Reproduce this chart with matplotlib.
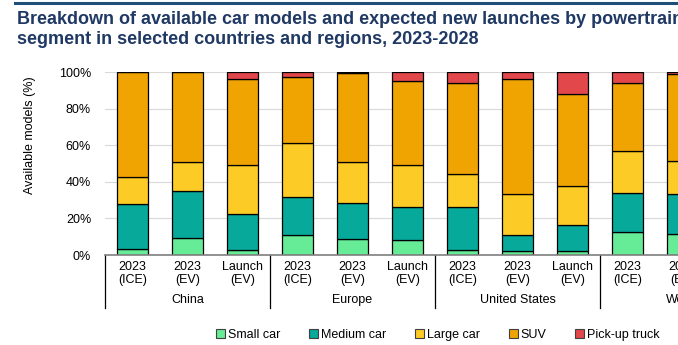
import matplotlib
matplotlib.use("Agg")
import matplotlib.pyplot as plt
from matplotlib.patches import Patch
import matplotlib.transforms as mtransforms
import numpy as np

plt.rcParams['font.family'] = ['Liberation Sans', 'DejaVu Sans']

# ---- data (percent shares) ----
tick_labels = ["2023\n(ICE)", "2023\n(EV)", "Launch\n(EV)"] * 4
groups = ["China", "Europe", "United States", "World"]
small_car  = [3.1, 9.1, 2.6, 10.8, 8.6, 8.0, 2.6, 2.0, 2.0, 12.4, 11.3]
medium_car = [24.6, 25.8, 19.7, 20.8, 19.7, 18.1, 23.5, 8.8, 14.2, 21.4, 21.9]
large_car  = [14.8, 15.8, 26.8, 29.5, 22.4, 23.0, 18.1, 22.4, 21.4, 23.0, 18.1]
suv        = [57.5, 49.3, 47.4, 36.2, 48.8, 46.0, 49.8, 63.0, 50.4, 37.2, 47.6]
pickup     = [0.0, 0.0, 3.5, 2.7, 0.5, 4.9, 6.0, 3.8, 12.0, 6.0, 1.1]
series_names = ["Small car", "Medium car", "Large car", "SUV", "Pick-up truck"]
series_values = [small_car, medium_car, large_car, suv, pickup]
colors = ["#66EB96", "#07A99B", "#FCCB25", "#F0A402", "#E1474B"]
title_lines = ["Breakdown of available car models and expected new launches by powertrain and",
               "segment in selected countries and regions, 2023-2028"]

W, H = 678, 345
fig = plt.figure(figsize=(W / 100, H / 100), dpi=100)
ax = fig.add_axes([105 / W, 90 / H, 660 / W, 182.7 / H])

x = np.arange(len(small_car))
bottom = np.zeros(len(x))
for name, vals, c in zip(series_names, series_values, colors):
    v = np.array(vals) / 100.0
    ax.bar(x, v, width=0.565, bottom=bottom, color=c, edgecolor="black",
           linewidth=0.9, label=name, zorder=3)
    bottom += v

ax.set_xlim(-0.5, 11.5)
ax.set_ylim(0, 1)
ax.set_yticks(np.linspace(0, 1, 6))
ax.set_yticklabels([f"{int(t)}%" for t in np.linspace(0, 100, 6)], fontsize=9)
ax.set_xticks(np.arange(12))
ax.set_xticklabels(tick_labels, fontsize=9, linespacing=1.15)
ax.tick_params(axis="both", length=0)
ax.tick_params(axis="y", pad=10)
ax.tick_params(axis="x", pad=4)
ax.grid(axis="y", color="#D9D9D9", linewidth=0.8, zorder=0)
for s in ["top", "right", "left"]:
    ax.spines[s].set_visible(False)
ax.spines["bottom"].set_color("#7F7F7F")
ax.spines["bottom"].set_linewidth(1.2)
ax.spines["bottom"].set_zorder(4)

trans = mtransforms.blended_transform_factory(ax.transData, ax.transAxes)
for i, g in enumerate(groups):
    ax.text(3 * i + 1, -45 / 182.7, g, transform=trans, ha="center", va="center",
            fontsize=9)
for b in [-0.5, 2.5, 5.5, 8.5]:
    ax.plot([b, b], [0, -53 / 182.7], transform=trans, color="black",
            linewidth=0.9, clip_on=False)

fig.text(30 / W, 1 - 135 / H, "Available models (%)", rotation=90,
         ha="center", va="center", fontsize=9)

# title
fig.add_artist(plt.Line2D([15 / W, 1], [1 - 3 / H, 1 - 3 / H], color="#1F4E79",
                          linewidth=2.2))
for k, line in enumerate(title_lines):
    fig.text(17 / W, 1 - (20 + 20 * k) / H, line, ha="left", va="center",
             fontsize=13, fontweight="bold", color="#1F3864")

handles = [Patch(facecolor=c, edgecolor="#404040", linewidth=0.8, label=n)
           for n, c in zip(series_names, colors)]
fig.legend(handles=handles, loc="center", bbox_to_anchor=(438 / W, 1 - 335 / H),
           ncol=5, frameon=False, fontsize=9, handlelength=0.7, handleheight=0.7,
           handletextpad=0.25, columnspacing=2.3)

fig.savefig("out.png", dpi=100)
